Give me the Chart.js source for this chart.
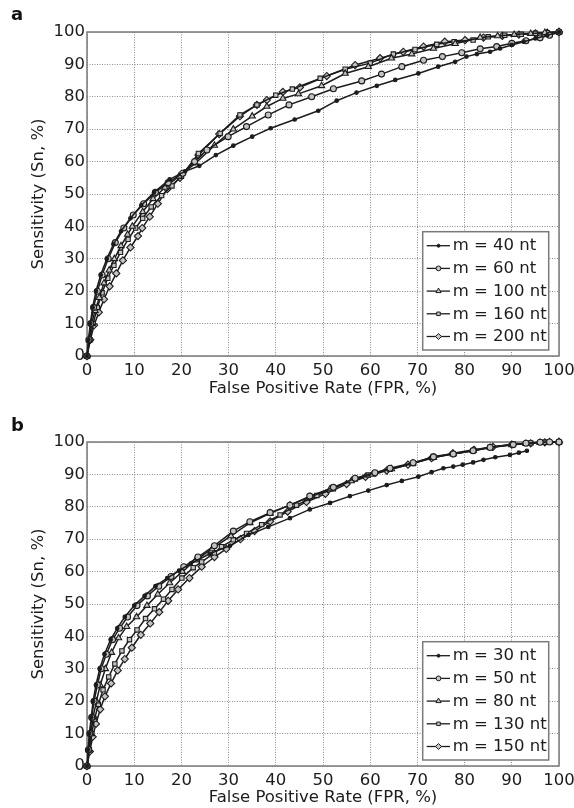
<!DOCTYPE html>
<html><head><meta charset="utf-8">
<script src="https://cdn.jsdelivr.net/npm/chart.js@4.4.1/dist/chart.umd.min.js"></script>
<style>
html,body{margin:0;padding:0;background:#fff;width:574px;height:808px;overflow:hidden;position:relative;}
.wrap{position:absolute;left:0;width:574px;height:404px;}
#wa{top:0;}
#wb{top:404px;}
.lbl{position:absolute;left:11px;font:bold 18px "DejaVu Sans";line-height:18px;color:#111;z-index:2;}
</style></head><body>
<div class="lbl" style="top:5px">a</div>
<div class="lbl" style="top:416px">b</div>
<div class="wrap" id="wa"><canvas id="ca" width="574" height="404"></canvas></div>
<div class="wrap" id="wb"><canvas id="cb" width="574" height="404"></canvas></div>
<script>
// ---- tick labels ----
const xTicks = [0,10,20,30,40,50,60,70,80,90,100];
const yTicks = [0,10,20,30,40,50,60,70,80,90,100];
const xTitle = 'False Positive Rate (FPR, %)';
const yTitle = 'Sensitivity (Sn, %)';

// ---- panel a ----
const labelsA = ['m = 40 nt','m = 60 nt','m = 100 nt','m = 160 nt','m = 200 nt'];
const a40x = [0,0.3,0.7,1.2,1.9,2.9,4.2,5.6,7.2,9.2,11.5,14.2,17.5,20.8,23.8,27.3,31,35,38.9,44,49,52.9,57.1,61.4,65.3,70.2,74.4,78,80.4,82.6,85.4,87.5,90,92.5,95,97.5,100];
const a40y = [0,5,10,15,20,25,30,34.5,38.5,42.5,46.5,50.5,54.5,57,58.7,62,64.9,67.7,70.3,73,75.7,78.8,81.3,83.4,85.2,87.2,89.3,90.8,92.4,93.2,93.9,94.9,96,97,98,99,100];
const a60x = [0,0.4,0.8,1.4,2.2,3.2,4.5,6,7.8,9.8,12,14.5,17.2,20.3,22.8,25.4,29.9,33.8,38.4,42.8,47.6,52.2,58.2,62.4,66.7,71.3,75.3,79.4,83.3,86.8,90,93,96,98,100];
const a60y = [0,5,10,15,20,25,30,35,39.5,43.5,47,50.5,53.5,56.4,60,63.6,67.7,70.8,74.4,77.5,80,82.5,84.9,87,89.3,91.3,92.4,93.6,94.8,95.5,96.5,97.3,98.2,99,100];
const a100x = [0,0.5,1,1.7,2.6,3.6,4.7,5.8,7.2,8.6,9.6,11.8,14,16.5,19.5,23,27,31,35,38.1,41.5,44.8,49.7,54.7,59.6,64.5,68.8,73.4,78,83.3,87,90.5,94,97,100];
const a100y = [0,5,10,14,18,22.5,26.5,30,34,37.5,40,44.5,48.5,52,55.5,59.5,65,70,74,77,79.5,80.9,83.4,87.2,89.3,91.9,93.2,94.9,96.4,98.3,98.8,99.2,99.5,99.8,100];
const a160x = [0,0.6,1.3,2.2,3.2,4.4,5.7,7.1,8.7,10.3,11.8,13.6,15.8,18,20,23.6,28.2,32.4,36,40,43.5,49.4,54.7,60,64.9,69.5,74.1,77.8,81.8,85,88.5,92,95,97.5,100];
const a160y = [0,5,10,15,19.5,24,28,32,36,39.5,42.5,46,49.5,52.5,55.5,62.5,68.7,74.4,77.5,80.5,82.4,85.7,88.5,90.4,93.2,94.6,96.2,97,97.5,98.5,99,99.3,99.6,99.8,100];
const a200x = [0,0.7,1.5,2.5,3.6,4.8,6.2,7.6,9.2,10.8,11.7,13.3,15,17,19.7,23.6,28,32.4,36,38.1,41.5,45.1,50.8,56.8,62.1,67,71.3,75.8,80.1,84,88,91.5,95,97.5,100];
const a200y = [0,5,9.5,13.5,17.5,21.5,25.5,29.5,33.5,37,39.5,43,47,51.5,55,62,68.5,74,77.5,79,81.5,82.9,86.4,89.8,91.9,93.9,95.5,97,97.5,98.3,98.8,99.2,99.6,99.8,100];

// ---- panel b ----
const labelsB = ['m = 30 nt','m = 50 nt','m = 80 nt','m = 130 nt','m = 150 nt'];
const b30x = [0,0.2,0.5,0.9,1.3,1.9,2.7,3.7,5,6.4,8,10,12.2,14.5,17,19.5,22,26,30.3,34.2,38.4,43,47.2,51.5,55.7,59.6,63.5,66.7,70.2,73,75.5,77.6,79.6,81.8,84,86.5,89.6,91.5,93.2];
const b30y = [0,5,10,15,20,25,30,34.5,39,42.5,46,49.5,52.5,55.5,58,60.3,62.5,65.5,68,71.3,73.8,76.5,79.2,81.2,83.3,85,86.7,88,89.3,90.7,91.9,92.4,93,93.7,94.5,95.3,96,96.7,97.3];
const b50x = [0,0.3,0.6,1,1.5,2.2,3,4.1,5.4,6.9,8.6,10.6,12.8,15.2,17.8,20.5,23.5,27,31,34.5,38.8,43,47.2,52.2,56.8,61,64.2,69.1,73.4,77.6,81.8,85.4,90.3,93,96,98,100];
const b50y = [0,5,10,15,20,25,30,34.5,39,42.5,46,49.5,52.5,55.5,58.5,61.5,64.5,68,72.5,75.4,78.2,80.5,83.3,86,88.8,90.5,91.9,93.6,95.4,96.3,97.3,98.3,99.2,99.6,99.9,100,100];
const b80x = [0,0.4,0.8,1.3,2,2.8,3.9,5.2,6.7,8.4,10.5,12.7,15,17.5,20.2,23,26.5,30.5,34.5,38.8,43,47.2,51.5,56,60.5,64.5,69,73.4,77.6,81.8,85.4,90,93,96,98,100];
const b80y = [0,5,10,15,20,25,30,35,39.5,43,46,49.5,53,56.5,60,63.5,67,71,75,78,80.5,83,85.5,88,90,91.7,93.4,95.2,96.3,97.3,98.3,99.1,99.5,99.8,100,100];
const b130x = [0,0.5,1,1.6,2.4,3.4,4.6,5.9,7.4,9,10.6,12.4,14.3,16.2,18,20.1,22.5,24.3,27,28.5,31,33.8,37,40.9,44.4,48.7,52.2,56.8,59.6,64.2,69.1,73.4,77.6,81.8,85.4,90.3,94,97,100];
const b130y = [0,5,10,14.5,19,23.5,27.5,31.5,35.5,39,42,45.5,48.5,51.5,54.5,58,61.2,63,65.8,67.7,69.8,71.8,74.5,77.5,80.5,83.5,85.6,88.6,89.8,91.6,93.4,95.5,96.4,97.4,98.4,99.3,99.7,99.9,100];
const b150x = [0,0.6,1.2,1.9,2.8,3.8,5.1,6.5,8,9.5,11.4,13.4,15.3,17.2,19.3,21.7,24.3,27,29.5,32.5,35.5,38.8,42.5,46.5,50.5,55,59,63.5,68,73,77.5,82,86,90,94,97,100];
const b150y = [0,4.5,9,13,17.5,21.5,25.5,29.5,33,36.5,40.5,44,47.5,51,54.5,58,61.5,64.5,67,70,72.5,75.5,78.5,81.5,84,87,89.2,91.2,93,95,96.5,97.6,98.5,99.2,99.6,99.9,100];

// ---- styles ----
const FONT = '"DejaVu Sans", sans-serif';
const FS = 16.5;
const INK = '#1c1c1c';
const OPEN = '#c4c4c4';
const markers = [
  {pointStyle:'circle', radius:1.8, fill:INK},
  {pointStyle:'circle', radius:3, fill:OPEN},
  {pointStyle:'triangle', radius:3.6, fill:OPEN},
  {pointStyle:'rect', radius:3.1, fill:OPEN},
  {pointStyle:'rectRot', radius:3.6, fill:OPEN}
];

function pts(xs, ys){ return xs.map((x,i)=>({x:x, y:ys[i]})); }

function makeSets(labels, series){
  return series.map((s,i)=>({
    label: labels[i],
    data: pts(s[0], s[1]),
    showLine: true,
    tension: 0,
    borderColor: INK,
    borderWidth: 1.5,
    pointStyle: markers[i].pointStyle,
    pointRadius: markers[i].radius,
    pointHoverRadius: markers[i].radius,
    pointBackgroundColor: markers[i].fill,
    pointBorderColor: INK,
    pointBorderWidth: 1.1,
    clip: 10
  }));
}

const framePlugin = {
  id: 'frameLegend',
  beforeDatasetsDraw(chart){
    const {ctx, chartArea:a} = chart;
    ctx.save();
    ctx.strokeStyle = '#7a7a7a';
    ctx.lineWidth = 1.5;
    ctx.strokeRect(a.left, a.top, a.right - a.left, a.bottom - a.top);
    ctx.restore();
  },
  afterDraw(chart){
    const {ctx, chartArea:a} = chart;
    const w = 126, h = 118.3;
    const left = a.left + 335.7;
    const top = a.bottom - 6 - h;
    ctx.save();
    ctx.fillStyle = '#fff';
    ctx.fillRect(left, top, w, h);
    ctx.strokeStyle = '#7a7a7a';
    ctx.lineWidth = 1.5;
    ctx.strokeRect(left, top, w, h);
    chart.data.datasets.forEach((ds, i) => {
      const y = top + 14 + i * 22.7;
      ctx.strokeStyle = INK;
      ctx.lineWidth = 1.3;
      ctx.beginPath();
      ctx.moveTo(left + 4, y);
      ctx.lineTo(left + 27.3, y);
      ctx.stroke();
      ctx.fillStyle = ds.pointBackgroundColor;
      ctx.strokeStyle = INK;
      ctx.lineWidth = 1;
      Chart.helpers.drawPoint(ctx, {pointStyle: ds.pointStyle, radius: Math.max(ds.pointRadius - 0.6, 1.5), rotation: 0, borderWidth: 1}, left + 15.8, y);
      ctx.fillStyle = INK;
      ctx.font = FS + 'px ' + FONT;
      ctx.textBaseline = 'middle';
      ctx.textAlign = 'left';
      ctx.fillText(ds.label, left + 30, y + 0.5);
    });
    ctx.restore();
  }
};

function makeChart(id, datasets, topPad, xAxisH, xTitlePadBottom){
  const grid = {color:'#8c8c8c', lineWidth:1, drawTicks:false};
  return new Chart(document.getElementById(id), {
    type: 'scatter',
    data: {datasets: datasets},
    options: {
      responsive: false,
      animation: false,
      events: [],
      layout: {padding: {left:0, top:topPad, right:15, bottom:0}},
      plugins: {legend:{display:false}, tooltip:{enabled:false}},
      scales: {
        x: {
          type: 'linear', min: 0, max: 100,
          afterBuildTicks: s => { s.ticks = xTicks.map(v => ({value:v})); },
          afterFit: s => { s.height = xAxisH; s.paddingLeft = 0; s.paddingRight = 0; },
          grid: grid,
          border: {display:false, dash:[1,1.5]},
          ticks: {color:INK, padding:5, maxRotation:0, autoSkip:false, font:{family:FONT, size:FS, lineHeight:1.2}},
          title: {display:true, text:xTitle, color:INK, padding:{top:0, bottom:xTitlePadBottom}, font:{family:FONT, size:FS, lineHeight:1.2}}
        },
        y: {
          type: 'linear', min: 0, max: 100,
          afterBuildTicks: s => { s.ticks = yTicks.map(v => ({value:v})); },
          afterFit: s => { s.width = 87; },
          grid: grid,
          border: {display:false, dash:[1,1.5]},
          ticks: {color:INK, padding:2, autoSkip:false, font:{family:FONT, size:FS, lineHeight:1.2}},
          title: {display:true, text:yTitle, color:INK, padding:{top:29, bottom:0}, font:{family:FONT, size:FS, lineHeight:1.2}}
        }
      }
    },
    plugins: [framePlugin]
  });
}

makeChart('ca', makeSets(labelsA, [[a40x,a40y],[a60x,a60y],[a100x,a100y],[a160x,a160y],[a200x,a200y]]), 32, 48, 5);
makeChart('cb', makeSets(labelsB, [[b30x,b30y],[b50x,b50y],[b80x,b80y],[b130x,b130y],[b150x,b150y]]), 38, 42, 0);
</script>
</body></html>
